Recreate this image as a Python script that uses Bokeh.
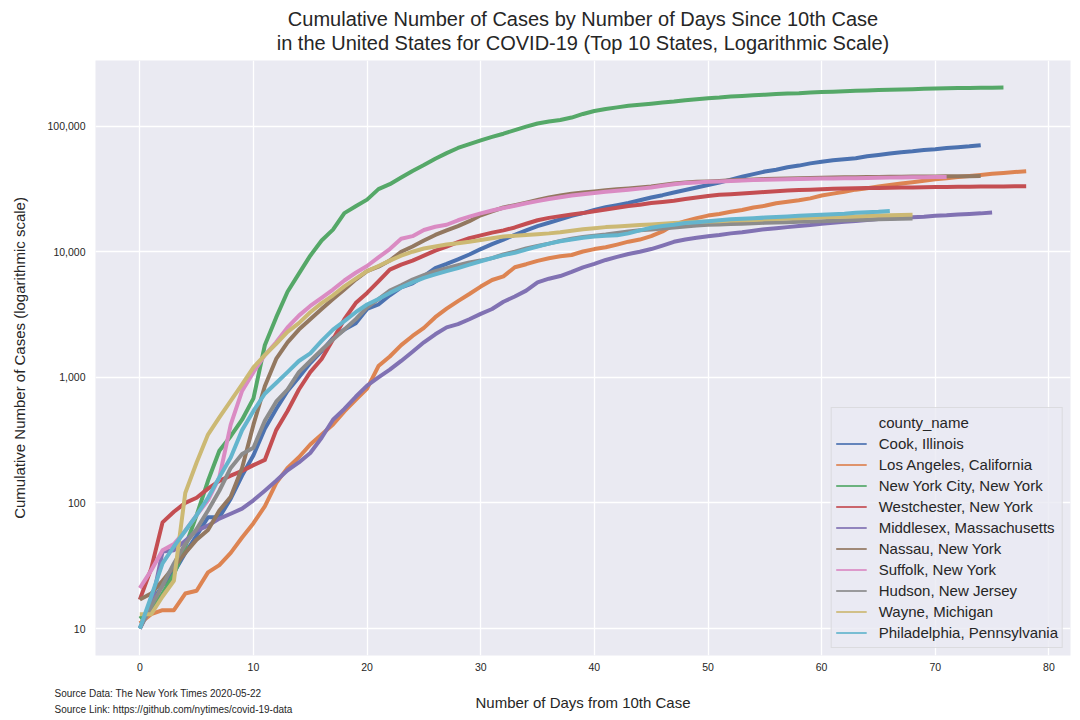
from bokeh.core.properties import value
from bokeh.embed import file_html
from bokeh.layouts import column
from bokeh.models import (FixedTicker, Legend, LegendItem, NumeralTickFormatter,
                          Range1d)
from bokeh.plotting import figure
from bokeh.resources import INLINE

# cumulative cases by days since the 10th case
counties = ["Cook, Illinois", "Los Angeles, California", "New York City, New York",
            "Westchester, New York", "Middlesex, Massachusetts", "Nassau, New York",
            "Suffolk, New York", "Hudson, New Jersey", "Wayne, Michigan",
            "Philadelphia, Pennsylvania"]

cook = [10, 16, 22, 28, 40, 55, 77, 77, 108, 165, 240, 390, 560, 780, 1000, 1300,
        1620, 2050, 2400, 2700, 3500, 3800, 4500, 5200, 5600, 6400, 7400, 8000, 8700,
        9500, 10500, 11500, 12500, 13600, 14800, 16000, 17000, 18100, 19300, 20300,
        21500, 22600, 23500, 24500, 25700, 27000, 28200, 29600, 31000, 32500, 34000,
        35500, 37500, 39500, 41500, 43500, 45000, 47000, 48500, 50500, 52000, 53500,
        54500, 55500, 57500, 59000, 60500, 62000, 63000, 64500, 65500, 67000, 68000,
        69000, 70500]
los_angeles = [11, 13, 14, 14, 19, 20, 28, 32, 40, 53, 69, 94, 144, 190, 231, 292,
               351, 421, 536, 662, 812, 1229, 1465, 1804, 2136, 2474, 3011, 3518, 4045,
               4605, 5277, 5955, 6360, 7530, 7955, 8453, 8873, 9192, 9420, 10047, 10496,
               10854, 11400, 12021, 12500, 13300, 14500, 16400, 17500, 18500, 19400,
               20000, 20800, 21500, 22500, 23200, 24300, 25000, 25700, 26600, 28000,
               29000, 30000, 31200, 32000, 33000, 34000, 34900, 35800, 36800, 37700,
               38500, 39300, 40100, 40900, 41700, 42400, 43100, 43700]
new_york_city = [12, 14, 19, 27, 45, 80, 150, 260, 340, 460, 680, 1800, 3000, 4800,
                 6700, 9300, 12300, 15000, 20300, 23000, 26000, 31500, 34500, 39000,
                 44000, 49000, 55000, 61000, 67000, 72000, 77000, 82000, 87000, 93000,
                 99000, 105000, 109000, 112000, 117000, 125000, 132000, 137000, 141000,
                 145000, 148000, 151000, 154000, 157000, 161000, 164000, 167000, 169000,
                 172000, 174000, 176000, 178000, 180000, 182000, 183000, 185000, 186500,
                 188000, 189500, 191000, 192000, 193500, 194500, 195500, 196500, 198000,
                 199500, 200500, 201000, 201500, 202000, 202500, 203000]
westchester = [17, 30, 70, 85, 100, 110, 130, 150, 165, 180, 200, 220, 380, 540, 800,
               1100, 1400, 2000, 2900, 3900, 4700, 5800, 7200, 7900, 8500, 9300, 10200,
               11000, 11900, 12800, 13500, 14200, 14800, 15600, 16700, 17800, 18600,
               19200, 19800, 20300, 21000, 21700, 22400, 23100, 23700, 24400, 24900,
               25500, 26300, 27000, 27800, 28400, 28700, 29100, 29500, 29900, 30300,
               30700, 31000, 31200, 31500, 31700, 31900, 32000, 32100, 32200, 32300,
               32400, 32500, 32600, 32700, 32800, 32850, 32900, 33000, 33050, 33100,
               33150, 33200]
middlesex = [10, 15, 41, 42, 50, 60, 66, 75, 82, 90, 105, 125, 150, 182, 210, 250, 330,
             460, 560, 700, 860, 1000, 1150, 1350, 1600, 1900, 2200, 2500, 2650, 2900,
             3200, 3500, 4000, 4400, 4900, 5700, 6100, 6400, 6900, 7500, 8000, 8600,
             9100, 9600, 10000, 10500, 11200, 12000, 12500, 12900, 13300, 13600, 14000,
             14300, 14700, 15100, 15400, 15700, 16000, 16300, 16700, 17000, 17300,
             17600, 17900, 18200, 18400, 18600, 18800, 19000, 19300, 19500, 19800,
             20000, 20200, 20500]
nassau = [17, 19, 24, 31, 40, 51, 61, 87, 112, 190, 420, 850, 1400, 1900, 2400, 2900,
          3500, 4200, 5000, 6000, 7000, 7600, 8500, 10000, 11000, 12300, 13600, 14800,
          16000, 17500, 19500, 21000, 22500, 23500, 24600, 25800, 27000, 28000, 29000,
          29600, 30200, 30800, 31400, 31900, 32400, 33000, 34000, 35000, 35500, 36000,
          36300, 36600, 37000, 37300, 37600, 37900, 38100, 38300, 38500, 38700, 38900,
          39000, 39100, 39200, 39300, 39400, 39500, 39600, 39700, 39750, 39800, 39850,
          39900, 39950, 40000]
suffolk = [21, 29, 42, 47, 60, 80, 105, 160, 420, 780, 1100, 1500, 1900, 2500, 3100,
           3700, 4300, 5000, 5900, 6800, 7700, 9000, 10500, 12700, 13300, 14900, 15800,
           16400, 17800, 19000, 20200, 21300, 22300, 23200, 24300, 25300, 26300, 27100,
           28000, 28700, 29400, 30000, 30600, 31200, 31800, 32500, 33500, 34500, 35200,
           35600, 36000, 36300, 36600, 36900, 37200, 37400, 37600, 37800, 38000, 38100,
           38200, 38300, 38400, 38500, 38650, 38800, 38900, 39000, 39100, 39200, 39300,
           39400]
hudson = [10, 15, 22, 33, 47, 62, 87, 125, 190, 245, 275, 450, 640, 800, 1100, 1350,
          1650, 2000, 2400, 2900, 3600, 4200, 4900, 5400, 6000, 6500, 7000, 7400, 7800,
          8200, 8500, 8900, 9500, 10000, 10600, 11100, 11600, 12200, 12700, 13100,
          13400, 13700, 14100, 14500, 14800, 15000, 15300, 15600, 15900, 16200, 16400,
          16500, 16600, 16700, 16850, 17000, 17100, 17200, 17300, 17400, 17500, 17650,
          17800, 17900, 18000, 18100, 18200, 18300, 18400]
wayne = [13, 13, 18, 24, 120, 210, 350, 480, 650, 880, 1200, 1500, 1850, 2300, 2700,
         3300, 3900, 4500, 5300, 6100, 7000, 7700, 8500, 9300, 10000, 10600, 11000,
         11400, 11700, 12000, 12400, 12800, 13200, 13400, 13600, 13800, 14000, 14300,
         14700, 15100, 15400, 15700, 15900, 16100, 16300, 16500, 16700, 16900, 17100,
         17300, 17400, 17500, 17700, 17800, 17900, 18100, 18200, 18400, 18500, 18600,
         18800, 18900, 19000, 19100, 19250, 19400, 19500, 19600, 19700]
philadelphia = [10, 18, 33, 45, 60, 80, 110, 160, 230, 380, 540, 740, 900, 1100, 1350,
                1550, 1950, 2400, 2800, 3300, 3800, 4200, 4700, 5200, 5700, 6200, 6600,
                7000, 7400, 7900, 8400, 8900, 9400, 9800, 10400, 11000, 11600, 12100,
                12500, 12900, 13200, 13400, 13500, 14000, 14800, 15500, 16000, 16400,
                16900, 17200, 17500, 17800, 18100, 18300, 18500, 18700, 18900, 19100,
                19300, 19500, 19700, 19900, 20100, 20400, 20600, 20800, 21100]

series = [cook, los_angeles, new_york_city, westchester, middlesex, nassau, suffolk,
          hudson, wayne, philadelphia]
palette = ["#4C72B0", "#DD8452", "#55A868", "#C44E52", "#8172B3", "#937860",
           "#DA8BC3", "#8C8C8C", "#CCB974", "#64B5CD"]

x_ticks = [0, 10, 20, 30, 40, 50, 60, 70, 80]
y_ticks = [10, 100, 1000, 10000, 100000]

FONT = "Liberation Sans"
INK = "#262626"
W = 1080


def strip(height):
    # a bare figure used as a pixel canvas for text above / below the chart;
    # frame_align off so its frame spans the whole width
    s = figure(width=W, height=height, x_range=Range1d(0, W),
               y_range=Range1d(height, 0), x_axis_location=None,
               y_axis_location=None, min_border=0, output_backend="svg",
               toolbar_location=None)
    s.frame_align = False
    s.outline_line_color = None
    s.grid.visible = False
    return s


# title
top = strip(60)
top.text(x=[582.5, 582.5], y=[18, 42],
         text=["Cumulative Number of Cases by Number of Days Since 10th Case",
               "in the United States for COVID-19 (Top 10 States, Logarithmic Scale)"],
         text_align="center", text_baseline="middle", text_font=value(FONT),
         text_font_size="20px", text_color=INK)

# main chart
p = figure(width=W, height=620, y_axis_type="log",
           x_range=Range1d(-3.9, 81.9), y_range=Range1d(6.1, 333000),
           output_backend="svg", toolbar_location=None,
           min_border_left=95, min_border_right=10, min_border_top=0,
           min_border_bottom=25,
           background_fill_color="#EAEAF2", border_fill_color="white")
p.outline_line_color = None

for vals, color in zip(series, palette):
    days = list(range(len(vals)))
    p.line(days, vals, line_width=4, color=color, line_join="round")

# legend: hue name as first entry, thin handles (single-point lines draw nothing)
head = p.line(list(range(len(cook)))[:1], cook[:1], line_alpha=0)
items = [LegendItem(label="county_name", renderers=[head])]
for name, vals, color in zip(counties, series, palette):
    r = p.line(list(range(len(vals)))[:1], vals[:1], line_width=2.2, color=color,
               line_alpha=0.85)
    items.append(LegendItem(label=name, renderers=[r]))
legend = Legend(items=items, location="bottom_right", margin=7, padding=4,
                spacing=0, label_height=21, glyph_height=21, glyph_width=31,
                label_standoff=12, label_text_font=FONT,
                label_text_font_size="15px", label_text_color=INK,
                background_fill_color="#EAEAF2", background_fill_alpha=0.8,
                border_line_color="#CCCCCC", border_line_width=1)
p.add_layout(legend)

p.xaxis.ticker = FixedTicker(ticks=x_ticks)
p.yaxis.ticker = FixedTicker(ticks=y_ticks)
p.yaxis.formatter = NumeralTickFormatter(format="0,0")
for ax in (p.xaxis, p.yaxis):
    ax.axis_line_color = None
    ax.major_tick_line_color = None
    ax.minor_tick_line_color = None
    ax.major_label_text_font = FONT
    ax.major_label_text_font_size = "10.5px"
    ax.major_label_text_color = INK
p.xaxis.major_label_standoff = 1
p.yaxis.major_label_standoff = 4
p.yaxis.axis_label = "Cumulative Number of Cases (logarithmic scale)"
p.yaxis.axis_label_text_font = FONT
p.yaxis.axis_label_text_font_size = "15px"
p.yaxis.axis_label_text_font_style = "normal"
p.yaxis.axis_label_text_color = INK
p.yaxis.axis_label_standoff = 17

p.grid.grid_line_color = "white"
p.grid.grid_line_width = 1.3

# x axis title and source notes
bottom = strip(40)
bottom.text(x=[582.5], y=[22], text=["Number of Days from 10th Case"],
            text_align="center", text_baseline="middle", text_font=value(FONT),
            text_font_size="15px", text_color=INK)
bottom.text(x=[54, 54], y=[13, 29],
            text=["Source Data: The New York Times 2020-05-22",
                  "Source Link: https://github.com/nytimes/covid-19-data"],
            text_baseline="middle", text_font=value(FONT), text_font_size="10px",
            text_color=INK)

page = column(top, p, bottom, spacing=0)
open("out.html", "w").write(file_html(page, INLINE))
